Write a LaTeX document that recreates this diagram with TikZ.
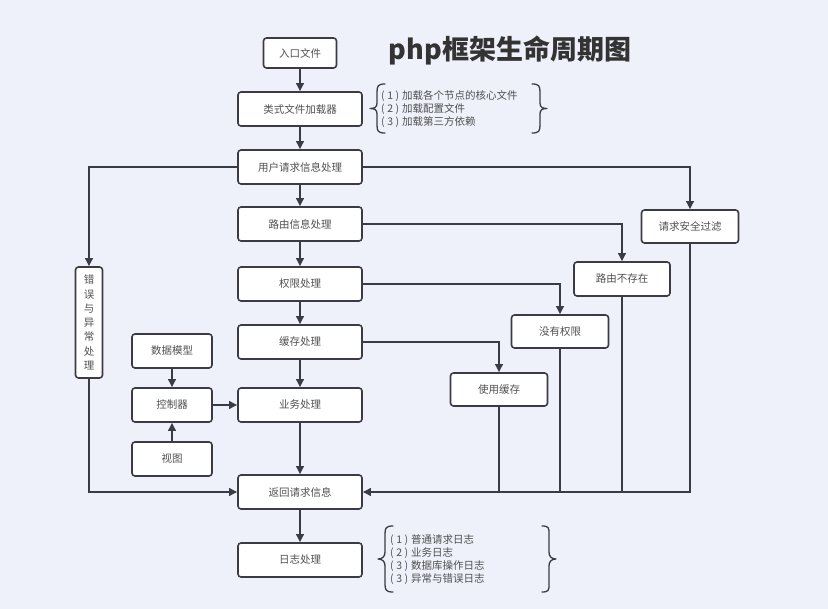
\documentclass[tikz,border=0pt]{standalone}
\usepackage{fontspec}
\newfontfamily\cjk{Noto Sans CJK SC}
\usetikzlibrary{arrows.meta}
\definecolor{bg}{HTML}{EEF1FA}
\definecolor{linec}{HTML}{3A3B45}
\definecolor{txt}{HTML}{505050}
\definecolor{ttl}{HTML}{333333}
\newcommand{\numitem}[1]{(\hspace{2.5pt}#1\hspace{2.5pt})\hspace{3pt}}
\tikzset{
  mbox/.style={draw=linec, line width=1.6pt, rounded corners=3pt, fill=white,
    inner sep=0pt, text=txt, font=\cjk\fontsize{10.5}{13}\selectfont},
  colbox/.style={mbox, minimum width=124pt, minimum height=34pt},
  sidebox/.style={mbox, minimum width=97pt, minimum height=33pt},
  leftbox/.style={mbox, minimum width=80pt, minimum height=34pt},
  arr/.style={draw=linec, line width=2pt, -{Triangle[length=8pt,width=7.5pt]}},
  ln/.style={draw=linec, line width=2pt},
  note/.style={anchor=west, align=left, inner sep=0pt, text=txt,
    font=\cjk\fontsize{10.5}{13}\selectfont},
  brace/.style={draw=linec, line width=1.3pt, line cap=round, line join=round}
}
\begin{document}
\begin{tikzpicture}[x=1pt,y=-1pt]
\fill[bg] (0,0) rectangle (828,609);
\useasboundingbox (0,0) rectangle (828,609);

\node[text=ttl, font=\cjk\bfseries\fontsize{27}{30}\selectfont, inner sep=0pt] (title) at (510,50) {php框架生命周期图};

% main column
\node[mbox, minimum width=73pt, minimum height=30pt] (entry) at (300,53) {入口文件};
\node[colbox] (loader) at (300,109) {类式文件加载器};
\node[colbox] (req) at (300,167) {用户请求信息处理};
\node[colbox] (route) at (300,224) {路由信息处理};
\node[colbox] (auth) at (300,284) {权限处理};
\node[colbox] (cache) at (300,342) {缓存处理};
\node[colbox] (biz) at (300,405) {业务处理};
\node[colbox] (ret) at (300,492) {返回请求信息};
\node[colbox] (log) at (300,560) {日志处理};

% left
\node[leftbox] (model) at (172,351) {数据模型};
\node[leftbox] (ctrl) at (172,405) {控制器};
\node[leftbox] (view) at (172,459) {视图};
\node[mbox, minimum width=27pt, minimum height=111pt, align=center,
  font=\cjk\fontsize{10.5}{14.3}\selectfont] (err) at (89,322.5)
  {错\\误\\与\\异\\常\\处\\理};

% right
\node[sidebox] (sec) at (690,226.5) {请求安全过滤};
\node[sidebox, minimum width=96pt, minimum height=34pt] (nort) at (622,279) {路由不存在};
\node[sidebox] (noauth) at (560,331.5) {没有权限};
\node[sidebox] (usecache) at (499,389.5) {使用缓存};

% main flow
\draw[arr] (entry) -- (loader);
\draw[arr] (loader) -- (req);
\draw[arr] (req) -- (route);
\draw[arr] (route) -- (auth);
\draw[arr] (auth) -- (cache);
\draw[arr] (cache) -- (biz);
\draw[arr] (biz) -- (ret);
\draw[arr] (ret) -- (log);

% MVC
\draw[arr] (model) -- (ctrl);
\draw[arr] (view) -- (ctrl);
\draw[arr] (ctrl) -- (biz);

% error branch
\draw[arr] (req.west) -| (err.north);
\draw[arr] (err.south) |- (ret.west);

% right branches
\draw[arr] (req.east) -| (sec.north);
\draw[arr] (route.east) -| (nort.north);
\draw[arr] (auth.east) -| (noauth.north);
\draw[arr] (cache.east) -| (usecache.north);
\draw[arr] (sec.south) |- (ret.east);
\draw[ln] (nort.south) -- (nort.south |- ret.east);
\draw[ln] (noauth.south) -- (noauth.south |- ret.east);
\draw[ln] (usecache.south) -- (usecache.south |- ret.east);

% notes
\node[note] (loadnote) at (381,109) {\numitem{1}加载各个节点的核心文件\\\numitem{2}加载配置文件\\\numitem{3}加载第三方依赖};
\draw[brace] (385,84) .. controls (378,84) and (377,86) .. (377,92)
  -- (377,103) .. controls (377,107) and (375,108.5) .. (370,108.5)
  .. controls (375,108.5) and (377,110) .. (377,114)
  -- (377,125) .. controls (377,131) and (378,133) .. (385,133);
\draw[brace] (532,84) .. controls (539,84) and (540,86) .. (540,92)
  -- (540,103) .. controls (540,107) and (542,108.5) .. (547,108.5)
  .. controls (542,108.5) and (540,110) .. (540,114)
  -- (540,125) .. controls (540,131) and (539,133) .. (532,133);

\node[note] (lognote) at (390,559.5) {\numitem{1}普通请求日志\\\numitem{2}业务日志\\\numitem{3}数据库操作日志\\\numitem{3}异常与错误日志};
\draw[brace] (393,526) .. controls (386,526) and (385,528) .. (385,534)
  -- (385,552) .. controls (385,556) and (383,559) .. (378,559)
  .. controls (383,559) and (385,562) .. (385,566)
  -- (385,584) .. controls (385,590) and (386,592) .. (393,592);
\draw[brace] (542,526) .. controls (549,526) and (549,528) .. (549,534)
  -- (549,552) .. controls (549,556) and (551,559) .. (556,559)
  .. controls (551,559) and (549,562) .. (549,566)
  -- (549,584) .. controls (549,590) and (549,592) .. (542,592);
\end{tikzpicture}
\end{document}
